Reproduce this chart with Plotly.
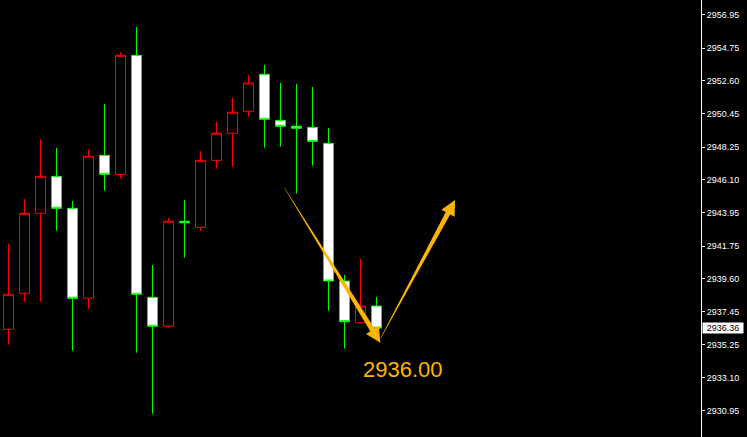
import plotly.graph_objects as go

# ---------------- data ----------------
candle_idx = list(range(24))
opens  = [2936.28, 2938.65, 2943.90, 2946.33, 2944.23, 2938.32, 2947.71, 2946.46,
          2954.28, 2938.38, 2936.48, 2943.38, 2942.98, 2947.38, 2949.16, 2950.60,
          2953.03, 2950.01, 2949.62, 2949.55, 2948.50, 2939.45, 2936.71, 2937.81]
highs  = [2941.88, 2944.84, 2948.76, 2948.19, 2944.71, 2948.11, 2951.08, 2954.50,
          2956.14, 2940.50, 2943.59, 2944.78, 2947.99, 2949.90, 2951.48, 2952.97,
          2953.65, 2952.46, 2952.40, 2952.20, 2949.51, 2939.85, 2940.90, 2938.40]
lows   = [2935.27, 2938.09, 2938.09, 2942.76, 2934.87, 2937.63, 2945.39, 2946.17,
          2934.74, 2930.73, 2936.38, 2940.98, 2942.74, 2946.83, 2946.96, 2950.25,
          2948.21, 2948.28, 2945.19, 2947.03, 2937.50, 2935.01, 2936.65, 2936.12]
closes = [2938.58, 2943.90, 2946.33, 2944.23, 2938.32, 2947.65, 2946.46, 2954.28,
          2938.58, 2936.48, 2943.38, 2943.28, 2947.38, 2949.16, 2950.54, 2952.46,
          2950.08, 2949.62, 2949.49, 2948.63, 2939.45, 2936.78, 2937.81, 2936.36]

tick_vals = [2956.95, 2954.75, 2952.60, 2950.45, 2948.25, 2946.10, 2943.95,
             2941.75, 2939.60, 2937.45, 2935.25, 2933.10, 2930.95]
tick_text = ["2956.95", "2954.75", "2952.60", "2950.45", "2948.25", "2946.10", "2943.95",
             "2941.75", "2939.60", "2937.45", "2935.25", "2933.10", "2930.95"]

current_price = 2936.36
target_label = "2936.00"
target_label_pos = (24.65, 2933.64)

# arrows: (x index, price) tail -> head
arrow_down = [(17.24, 2945.58), (23.24, 2935.40)]
arrow_up = [(23.26, 2935.70), (27.91, 2944.77)]

# ---------------- layout constants ----------------
W, H = 747, 437
ML, MR, MT, MB = 0, 46, 0, 0
X_RANGE = [-0.53125, 43.28]
Y_RANGE = [2929.203, 2957.916]
GOLD = "#FFB400"

pw = W - ML - MR
ph = H - MT - MB


def to_px(x, y):
    px = ML + (x - X_RANGE[0]) / (X_RANGE[1] - X_RANGE[0]) * pw
    py = MT + (Y_RANGE[1] - y) / (Y_RANGE[1] - Y_RANGE[0]) * ph
    return px, py


def to_data(px, py):
    x = X_RANGE[0] + (px - ML) / pw * (X_RANGE[1] - X_RANGE[0])
    y = Y_RANGE[1] - (py - MT) / ph * (Y_RANGE[1] - Y_RANGE[0])
    return x, y


def arrow_path(tail, head, w_tail=0.4, w_shaft=5.0, head_len=15.0, head_w=15.0):
    import math
    x0, y0 = to_px(*tail)
    x1, y1 = to_px(*head)
    dx, dy = x1 - x0, y1 - y0
    L = math.hypot(dx, dy)
    ux, uy = dx / L, dy / L
    nx, ny = -uy, ux
    bx, by = x1 - ux * head_len, y1 - uy * head_len
    pts = [
        (x0 + nx * w_tail / 2, y0 + ny * w_tail / 2),
        (bx + nx * w_shaft / 2, by + ny * w_shaft / 2),
        (bx + nx * head_w / 2, by + ny * head_w / 2),
        (x1, y1),
        (bx - nx * head_w / 2, by - ny * head_w / 2),
        (bx - nx * w_shaft / 2, by - ny * w_shaft / 2),
        (x0 - nx * w_tail / 2, y0 - ny * w_tail / 2),
    ]
    d = []
    for i, (px, py) in enumerate(pts):
        xd, yd = to_data(px, py)
        d.append(("M" if i == 0 else "L") + f"{xd:.5f},{yd:.5f}")
    return " ".join(d) + " Z"


fig = go.Figure()
fig.add_trace(go.Candlestick(
    x=candle_idx, open=opens, high=highs, low=lows, close=closes,
    increasing=dict(line=dict(color="#FF0000", width=1), fillcolor="#000000"),
    decreasing=dict(line=dict(color="#00FF00", width=1), fillcolor="#FFFFFF"),
    whiskerwidth=0, showlegend=False, hoverinfo="skip",
))

for tail, head in (arrow_down, arrow_up):
    fig.add_shape(type="path", path=arrow_path(tail, head), xref="x", yref="y",
                  fillcolor=GOLD, line=dict(width=0), layer="above")

fig.add_annotation(x=target_label_pos[0], y=target_label_pos[1], text=target_label,
                   showarrow=False, xref="x", yref="y",
                   font=dict(family="Liberation Sans, Arial, sans-serif", size=22, color=GOLD))

fig.add_annotation(x=1, y=current_price, xref="paper", yref="y", text=str(current_price),
                   showarrow=False, xanchor="left", yanchor="middle", xshift=1,
                   bgcolor="#FFFFFF", borderpad=0, width=40, align="center",
                   font=dict(family="Liberation Sans, Arial, sans-serif", size=9, color="#000000"))

fig.update_layout(
    width=W, height=H,
    margin=dict(l=ML, r=MR, t=MT, b=MB, pad=0),
    paper_bgcolor="#000000", plot_bgcolor="#000000",
    boxgap=0.375, boxgroupgap=0,
    xaxis=dict(range=X_RANGE, visible=False, rangeslider=dict(visible=False),
               showgrid=False, zeroline=False),
    yaxis=dict(range=Y_RANGE, side="right", tickvals=tick_vals, ticktext=tick_text,
               showgrid=False, zeroline=False, showline=True, linecolor="#FFFFFF",
               linewidth=1, ticks="outside", ticklen=3, tickcolor="#FFFFFF",
               tickfont=dict(family="Liberation Sans, Arial, sans-serif", size=9,
                             color="#FFFFFF")),
    hovermode=False,
)

fig.write_html(
    "out.html",
    config={"displayModeBar": False},
    post_script="document.body.style.margin='0';document.body.style.padding='0';"
                "document.body.style.background='#000';"
                "document.documentElement.style.overflow='hidden';",
)
